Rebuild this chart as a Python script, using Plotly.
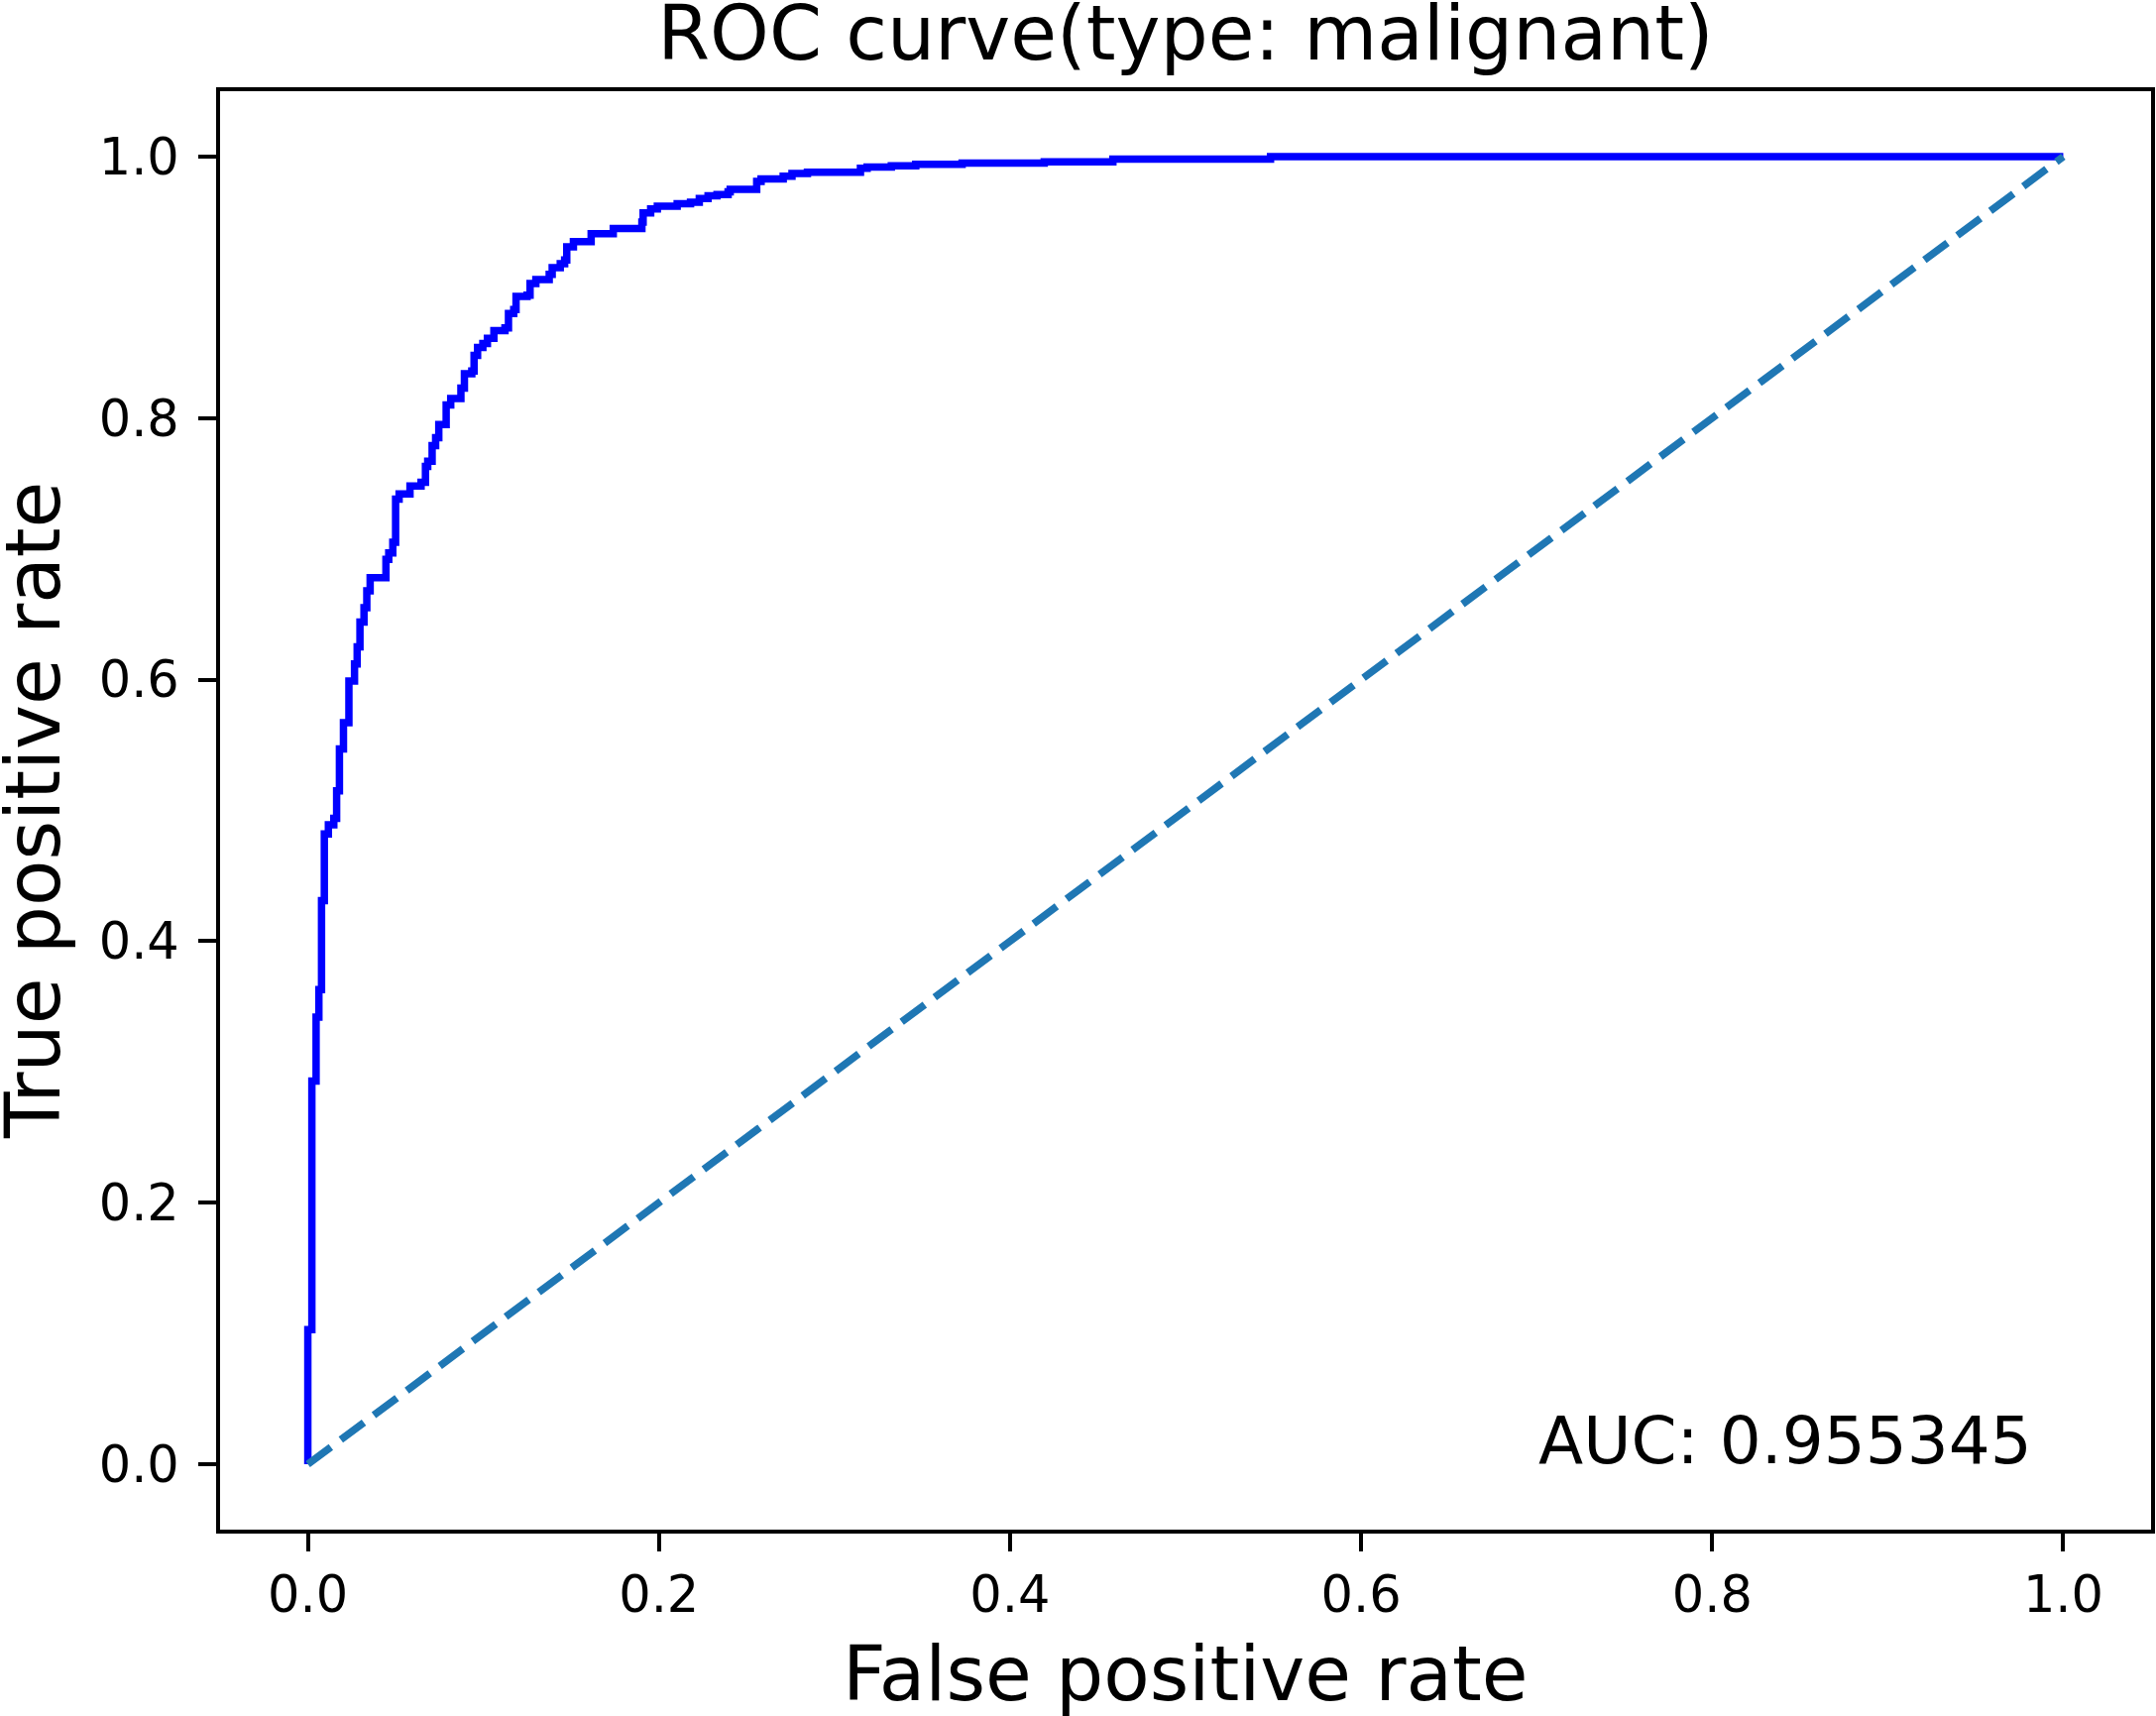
import plotly.graph_objects as go

# ROC curve vertices (false positive rate, true positive rate)
fpr = [0.0, 0.0, 0.0023, 0.0047, 0.0063, 0.0078, 0.0094, 0.0117, 0.0148, 0.0164,
       0.018, 0.0203, 0.0234, 0.0266, 0.0281, 0.0297, 0.032, 0.0336, 0.0355, 0.0445,
       0.0461, 0.0484, 0.05, 0.052, 0.0582, 0.0645, 0.067, 0.0683, 0.0708, 0.0728,
       0.0746, 0.0788, 0.0814, 0.0872, 0.0892, 0.0934, 0.0947, 0.0967, 0.0997, 0.1023,
       0.106, 0.1123, 0.1143, 0.1173, 0.1186, 0.1249, 0.1266, 0.1299, 0.1375, 0.1392,
       0.1438, 0.1463, 0.1475, 0.1513, 0.1614, 0.174, 0.1903, 0.191, 0.1953, 0.1991,
       0.2104, 0.218, 0.223, 0.228, 0.2331, 0.2394, 0.2406, 0.2557, 0.2582, 0.2708,
       0.2758, 0.2846, 0.3148, 0.3186, 0.3324, 0.3463, 0.3727, 0.4195, 0.4586, 0.5484,
       1.0]
tpr = [0.0, 0.103, 0.293, 0.342, 0.363, 0.431, 0.482, 0.489, 0.494, 0.515,
       0.547, 0.567, 0.599, 0.612, 0.625, 0.644, 0.655, 0.668, 0.678, 0.692,
       0.697, 0.705, 0.738, 0.742, 0.748, 0.751, 0.763, 0.767, 0.779, 0.785,
       0.795, 0.810, 0.815, 0.823, 0.834, 0.836, 0.848, 0.854, 0.857, 0.861,
       0.867, 0.869, 0.880, 0.883, 0.893, 0.894, 0.903, 0.906, 0.910, 0.915,
       0.918, 0.921, 0.931, 0.935, 0.941, 0.945, 0.950, 0.957, 0.960, 0.962,
       0.964, 0.965, 0.968, 0.970, 0.971, 0.973, 0.975, 0.981, 0.983, 0.985,
       0.987, 0.988, 0.991, 0.992, 0.993, 0.994, 0.995, 0.996, 0.998, 1.0,
       1.0]

# chance diagonal
diag_x = [0.0, 1.0]
diag_y = [0.0, 1.0]

tick_vals = [0.0, 0.2, 0.4, 0.6, 0.8, 1.0]
tick_text = ["0.0", "0.2", "0.4", "0.6", "0.8", "1.0"]

title_text = "ROC curve(type: malignant)"
x_label = "False positive rate"
y_label = "True positive rate"
auc_text = "AUC: 0.955345"
auc_pos = (0.7, 0.0)

FONT = "DejaVu Sans"
W, H = 2175, 1731
ML, MR, MT, MB = 222, 5, 92, 188
LABEL_SIZE = 76

fig = go.Figure()
fig.add_trace(go.Scatter(x=fpr, y=tpr, mode="lines", line=dict(color="#0000ff", width=7.5, shape="hv"),
                         showlegend=False, hoverinfo="skip"))
fig.add_trace(go.Scatter(x=diag_x, y=diag_y, mode="lines",
                         line=dict(color="#1f77b4", width=7.5, dash="29px,12.5px"),
                         showlegend=False, hoverinfo="skip"))

axis_common = dict(
    showgrid=False, zeroline=False, showline=True, mirror=True,
    linecolor="black", linewidth=4, ticks="outside", ticklen=18, tickwidth=4,
    tickcolor="black", tickvals=tick_vals, ticktext=tick_text,
    tickfont=dict(family=FONT, size=51, color="black"),
)
fig.update_xaxes(range=[-0.05, 1.05], ticklabelstandoff=0, **axis_common)
fig.update_yaxes(range=[-0.05, 1.05], ticklabelstandoff=9, **axis_common)

plot_h = H - MT - MB
plot_w = W - ML - MR

fig.update_layout(
    width=W, height=H,
    margin=dict(l=ML, r=MR, t=MT, b=MB, autoexpand=False),
    paper_bgcolor="white", plot_bgcolor="white",
    title=dict(text=title_text, x=0.5, xref="paper", xanchor="center",
               y=1 - (60 - 0.35 * LABEL_SIZE) / H, yref="container", yanchor="middle",
               font=dict(family=FONT, size=LABEL_SIZE, color="black")),
    annotations=[
        dict(text=x_label, xref="paper", yref="paper", x=0.5,
             y=-(1715 - 0.35 * LABEL_SIZE - (H - MB)) / plot_h,
             xanchor="center", yanchor="middle", showarrow=False,
             font=dict(family=FONT, size=LABEL_SIZE, color="black")),
        dict(text=y_label, xref="paper", yref="paper",
             x=-(ML - (60 - 0.35 * LABEL_SIZE)) / plot_w, y=0.5,
             xanchor="center", yanchor="middle", textangle=-90, showarrow=False,
             font=dict(family=FONT, size=LABEL_SIZE, color="black")),
        dict(text=auc_text, xref="x", yref="y", x=auc_pos[0], y=auc_pos[1],
             xanchor="left", yanchor="middle", yshift=0.35 * 66, showarrow=False,
             font=dict(family=FONT, size=66, color="black")),
    ],
)

fig.write_html("out.html",
               config={"displayModeBar": False},
               post_script="document.body.style.margin='0';document.body.style.overflow='hidden';")
